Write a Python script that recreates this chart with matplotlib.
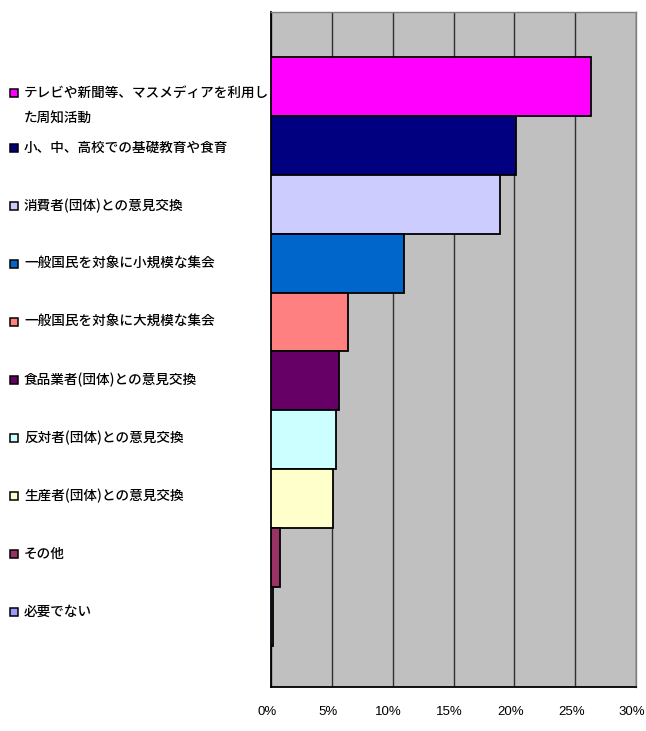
import matplotlib.pyplot as plt
from matplotlib.ticker import MultipleLocator, FuncFormatter
import matplotlib.transforms as mtransforms

plt.rcParams['font.family'] = ['Noto Sans CJK JP', 'DejaVu Sans']

# 回答項目と割合(%)
labels = [
    "テレビや新聞等、マスメディアを利用し\nた周知活動",
    "小、中、高校での基礎教育や食育",
    "消費者(団体)との意見交換",
    "一般国民を対象に小規模な集会",
    "一般国民を対象に大規模な集会",
    "食品業者(団体)との意見交換",
    "反対者(団体)との意見交換",
    "生産者(団体)との意見交換",
    "その他",
    "必要でない",
]
values = [26.3, 20.1, 18.8, 10.9, 6.35, 5.55, 5.35, 5.1, 0.77, 0.19]
colors = ["#FF00FF", "#000080", "#CCCCFF", "#0066CC", "#FF8080",
          "#660066", "#CCFFFF", "#FFFFCC", "#993366", "#9999FF"]

fig = plt.figure(figsize=(6.46, 7.31), dpi=100)
ax = fig.add_axes([271 / 646, 1 - 687 / 731, (636 - 271) / 646, (687 - 12) / 731])
ax.set_facecolor("#C0C0C0")

pos = list(range(len(values)))
ax.barh(pos, values, height=1.0, color=colors, edgecolor="black",
        linewidth=1.3, zorder=3)

ax.set_xlim(0, 30)
ax.set_ylim(10.2, -1.264)
ax.xaxis.set_major_locator(MultipleLocator(5))
ax.xaxis.set_major_formatter(FuncFormatter(lambda v, p: f"{v:.0f}%"))
ax.grid(axis="x", color="#303030", linewidth=1.0, zorder=1)
ax.set_yticks([])
ax.tick_params(axis="x", length=0, pad=14, labelsize=9.5)
shift = mtransforms.ScaledTranslation(-4 / 100, 0, fig.dpi_scale_trans)
for t in ax.get_xticklabels():
    t.set_family(['Liberation Sans', 'DejaVu Sans'])
    t.set_transform(t.get_transform() + shift)

for s in ["left", "bottom"]:
    ax.spines[s].set_color("black")
    ax.spines[s].set_linewidth(1.3)
for s in ["top", "right"]:
    ax.spines[s].set_color("#808080")
    ax.spines[s].set_linewidth(1.0)

# 凡例風のラベル(左側)
px = 58.87  # 1カテゴリ分の高さ(px)
trans = mtransforms.blended_transform_factory(fig.transFigure, ax.transData)
for i, (lab, col) in enumerate(zip(labels, colors)):
    if "\n" in lab:
        y = i - 0.01
        va = "top"
        ym = i + 0.12
    else:
        y = i + (2.5 - 0.875 * (i - 1)) / px
        va = "center"
        ym = y
    ax.plot([14 / 646], [ym], marker="s", markersize=6.4, color=col,
            markeredgecolor="black", markeredgewidth=1.1,
            transform=trans, clip_on=False)
    ax.text(24 / 646, y, lab, transform=trans, va=va, ha="left",
            fontsize=9.8, fontweight="medium", linespacing=2.05)

plt.savefig("out.png", dpi=100)
